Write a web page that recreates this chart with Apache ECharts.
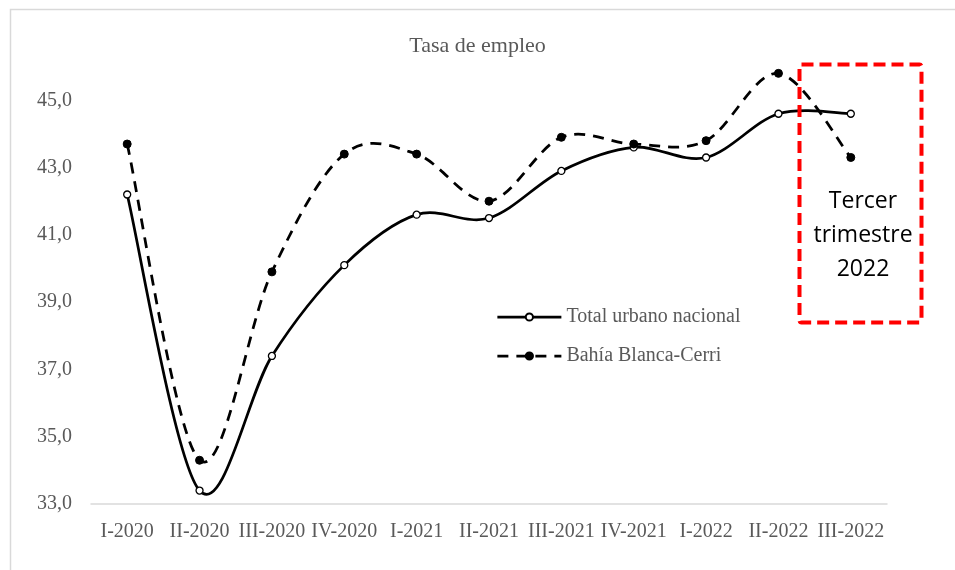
<!DOCTYPE html>
<html><head><meta charset="utf-8">
<script src="https://cdn.jsdelivr.net/npm/echarts@6/dist/echarts.min.js"></script>
<style>html,body{margin:0;padding:0;background:#fff}#c{width:955px;height:570px}</style>
</head><body><div id="c"></div>
<script>
const categories = ['I-2020','II-2020','III-2020','IV-2020','I-2021','II-2021','III-2021','IV-2021','I-2022','II-2022','III-2022'];
const totalUrbano = [42.2,33.4,37.4,40.1,41.6,41.5,42.9,43.6,43.3,44.6,44.6];
const bahiaBlanca = [43.7,34.3,39.9,43.4,43.4,42.0,43.9,43.7,43.8,45.8,43.3];
const yTicks = [33,35,37,39,41,43,45];

const chart = echarts.init(document.getElementById('c'), null, {renderer:'canvas'});
const serif = '"Liberation Serif","Times New Roman",serif';

// Excel-like smoothed curve (Catmull-Rom bezier) computed from data through the axis scale
function curveSeries(values, dash){
  return {
    type:'custom', silent:true, z:1,
    data:[0],
    renderItem:function(params, api){
      const pts = values.map((v,i)=>api.coord([i, v]));
      const n = pts.length;
      let d = 'M' + pts[0][0] + ' ' + pts[0][1];
      for (let i=0;i<n-1;i++){
        const p0 = pts[Math.max(0,i-1)], p1 = pts[i], p2 = pts[i+1], p3 = pts[Math.min(n-1,i+2)];
        const c1 = [p1[0]+(p2[0]-p0[0])/6, p1[1]+(p2[1]-p0[1])/6];
        const c2 = [p2[0]-(p3[0]-p1[0])/6, p2[1]-(p3[1]-p1[1])/6];
        d += ' C'+c1[0]+' '+c1[1]+' '+c2[0]+' '+c2[1]+' '+p2[0]+' '+p2[1];
      }
      return {type:'path', shape:{pathData:d},
        style:{fill:null, stroke:'#000', lineWidth:2.75, lineDash:dash, lineCap:'butt'}};
    }
  };
}

chart.setOption({
  animation:false,
  title:{text:'Tasa de empleo',left:'center',top:30,textStyle:{fontFamily:serif,fontSize:22,fontWeight:'normal',color:'#595959'}},
  grid:{left:91,right:68,top:33,bottom:66},
  legend:{orient:'vertical',left:491,top:302,itemWidth:64,itemHeight:9,itemGap:19,
    textStyle:{fontFamily:serif,fontSize:20,color:'#595959'},
    data:[
      {name:'Total urbano nacional',lineStyle:{color:'#000',width:2.75,type:'solid',opacity:1}},
      {name:'Bahía Blanca-Cerri',lineStyle:{color:'#000',width:2.75,type:[11,8],opacity:1}}
    ]},
  xAxis:{type:'category',data:categories,boundaryGap:true,
    axisLine:{lineStyle:{color:'#d9d9d9',width:1.5}},axisTick:{show:false},
    axisLabel:{interval:0,margin:18,fontFamily:serif,fontSize:20,color:'#595959'}},
  yAxis:{type:'value',min:33,max:47,interval:2,
    axisLine:{show:false},axisTick:{show:false},splitLine:{show:false},
    axisLabel:{margin:19,fontFamily:serif,fontSize:20,color:'#595959',
      formatter:v=>yTicks.includes(v)?v.toFixed(1).replace('.',','):''}},
  series:[
    curveSeries(totalUrbano, null),
    curveSeries(bahiaBlanca, [11,8]),
    {name:'Total urbano nacional',type:'line',data:totalUrbano,
     symbol:'circle',symbolSize:7,showAllSymbol:true,z:3,
     lineStyle:{color:'#000',width:0,opacity:0},
     itemStyle:{color:'#fff',borderColor:'#000',borderWidth:1.3}},
    {name:'Bahía Blanca-Cerri',type:'line',data:bahiaBlanca,
     symbol:'circle',symbolSize:8,showAllSymbol:true,z:3,
     lineStyle:{color:'#000',width:0,opacity:0},
     itemStyle:{color:'#000',borderColor:'#000',borderWidth:1}}
  ],
  graphic:[
    {type:'rect',left:8,top:7,shape:{width:960,height:570},style:{fill:'none',stroke:'#d9d9d9',lineWidth:1.5},silent:true},
    {type:'rect',left:797,top:62,shape:{width:122,height:258,r:2},style:{fill:'none',stroke:'#ff0000',lineWidth:4,lineDash:[12,6]},z:10},
    {type:'text',x:863,y:184,style:{text:'Tercer\ntrimestre\n2022',align:'center',verticalAlign:'top',fontFamily:'"Open Sans","Liberation Sans",sans-serif',fontSize:23,lineHeight:34,fill:'#000'},z:10}
  ]
});
</script></body></html>
